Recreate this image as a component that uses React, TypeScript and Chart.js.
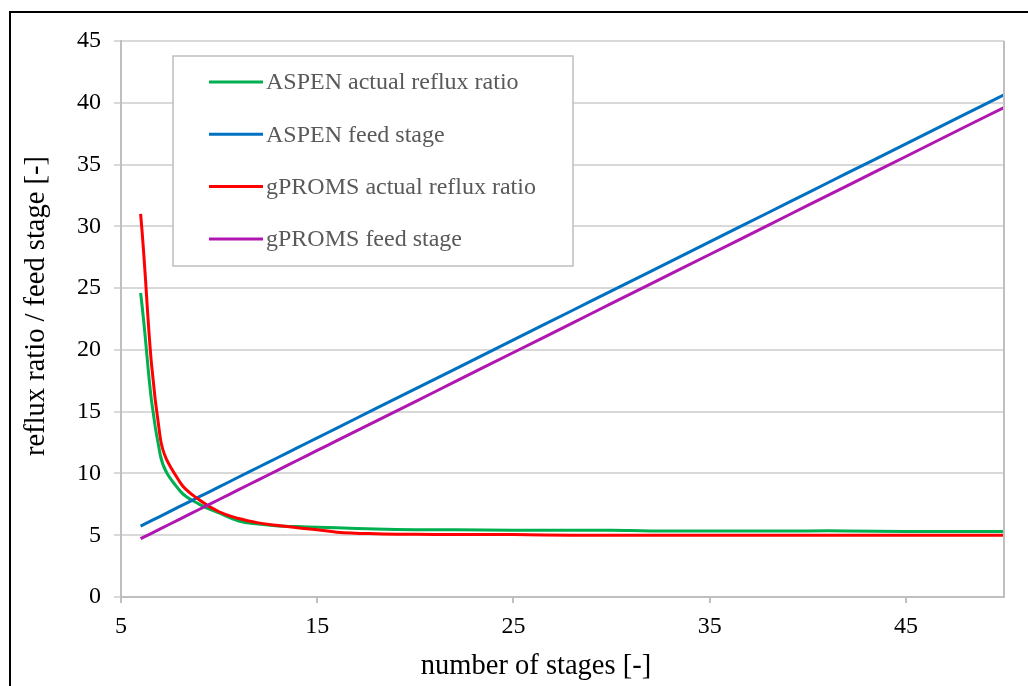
import React, { useEffect, useRef } from "react";
import { Chart, registerables } from "chart.js";

Chart.register(...registerables);

// Number of stages at which each series was evaluated
const stages = [6, 7, 8, 9, 10, 11, 12, 13, 14, 15, 16, 18, 20, 22, 25, 28, 30, 32, 35, 38, 40, 42, 45, 48, 50];

const aspenReflux = [24.6, 11.5, 8.6, 7.5, 6.8, 6.15, 5.9, 5.75, 5.7, 5.65, 5.6, 5.5, 5.45, 5.45, 5.4, 5.4, 5.4, 5.35, 5.35, 5.35, 5.35, 5.35, 5.3, 5.3, 5.3];
const aspenFeed = [5.74, 6.53, 7.33, 8.12, 8.91, 9.71, 10.5, 11.29, 12.09, 12.88, 13.67, 15.26, 16.84, 18.43, 20.81, 23.19, 24.78, 26.36, 28.74, 31.12, 32.71, 34.3, 36.67, 39.06, 40.64];
const gpromsReflux = [31.0, 12.9, 9.3, 7.85, 6.9, 6.35, 6.0, 5.78, 5.6, 5.45, 5.25, 5.12, 5.07, 5.05, 5.05, 5.0, 5.0, 5.0, 5.0, 5.0, 5.0, 5.0, 5.0, 5.0, 5.0];
const gpromsFeed = [4.72, 5.51, 6.31, 7.1, 7.89, 8.69, 9.48, 10.27, 11.07, 11.86, 12.65, 14.24, 15.82, 17.41, 19.79, 22.17, 23.76, 25.34, 27.72, 30.1, 31.69, 33.28, 35.65, 38.04, 39.62];

const seriesLabels = [
  "ASPEN actual reflux ratio",
  "ASPEN feed stage",
  "gPROMS actual reflux ratio",
  "gPROMS feed stage",
];

const xTickValues = [5, 15, 25, 35, 45];
const yTickValues = [0, 5, 10, 15, 20, 25, 30, 35, 40, 45];

const xTitle = "number of stages [-]";
const yTitle = "reflux ratio / feed stage [-]";

const FONT = "'Liberation Serif', 'Times New Roman', serif";
const COLORS = ["#00b050", "#0070c0", "#ff0000", "#b016b0"];

const toPoints = (ys: number[]) => stages.map((x, i) => ({ x, y: ys[i] }));

const decorations = {
  id: "decorations",
  afterDraw(chart: any) {
    const { ctx, chartArea } = chart;
    ctx.save();

    // outer frame (top and left edges)
    ctx.strokeStyle = "#000";
    ctx.lineWidth = 2;
    ctx.beginPath();
    ctx.moveTo(10, 686);
    ctx.lineTo(10, 12);
    ctx.lineTo(1028, 12);
    ctx.stroke();

    // right edge of the plot area
    ctx.strokeStyle = "#bfbfbf";
    ctx.lineWidth = 2;
    ctx.beginPath();
    ctx.moveTo(chartArea.right, chartArea.top);
    ctx.lineTo(chartArea.right, chartArea.bottom);
    ctx.stroke();

    // axis titles
    ctx.fillStyle = "#000";
    ctx.font = `28.5px ${FONT}`;
    ctx.textAlign = "center";
    ctx.textBaseline = "middle";
    ctx.fillText(xTitle, 536, 667);
    ctx.save();
    ctx.translate(37, 306);
    ctx.rotate(-Math.PI / 2);
    ctx.fillText(yTitle, 0, 0);
    ctx.restore();

    // legend box
    const bx = 173, by = 56, bw = 400, bh = 210;
    ctx.fillStyle = "#fff";
    ctx.fillRect(bx, by, bw, bh);
    ctx.strokeStyle = "#bfbfbf";
    ctx.lineWidth = 1.5;
    ctx.strokeRect(bx, by, bw, bh);

    ctx.font = `24px ${FONT}`;
    ctx.textAlign = "left";
    ctx.textBaseline = "middle";
    chart.data.datasets.forEach((ds: any, i: number) => {
      const y = 82 + i * 52.3;
      ctx.strokeStyle = ds.borderColor;
      ctx.lineWidth = 3;
      ctx.beginPath();
      ctx.moveTo(209, y);
      ctx.lineTo(263, y);
      ctx.stroke();
      ctx.fillStyle = "#595959";
      ctx.fillText(ds.label, 266, y + 1);
    });

    ctx.restore();
  },
};

export default function App() {
  const canvasRef = useRef<HTMLCanvasElement | null>(null);

  useEffect(() => {
    if (!canvasRef.current) return;
    const series = [aspenReflux, aspenFeed, gpromsReflux, gpromsFeed];
    const chart = new Chart(canvasRef.current, {
      type: "line",
      data: {
        datasets: series.map((ys, i) => ({
          label: seriesLabels[i],
          data: toPoints(ys),
          borderColor: COLORS[i],
          backgroundColor: COLORS[i],
          borderWidth: 3,
          pointRadius: 0,
          fill: false,
          tension: 0.4,
          order: 4 - i,
        })),
      },
      options: {
        responsive: false,
        animation: false,
        layout: { padding: { left: 0, top: 41, right: 24, bottom: 0 } },
        plugins: {
          legend: { display: false },
          tooltip: { enabled: false },
        },
        scales: {
          x: {
            type: "linear",
            min: 5,
            max: 50,
            afterBuildTicks: (scale: any) => {
              scale.ticks = xTickValues.map((v) => ({ value: v }));
            },
            afterFit: (scale: any) => {
              scale.height = 89;
            },
            grid: {
              drawOnChartArea: false,
              drawTicks: true,
              tickLength: 6,
              color: "#bfbfbf",
              lineWidth: 2,
            },
            border: { color: "#bfbfbf", width: 2 },
            ticks: {
              color: "#000",
              font: { family: FONT, size: 24 },
              padding: 9,
              maxRotation: 0,
            },
          },
          y: {
            type: "linear",
            min: 0,
            max: 45,
            afterBuildTicks: (scale: any) => {
              scale.ticks = yTickValues.map((v) => ({ value: v }));
            },
            afterFit: (scale: any) => {
              scale.width = 121;
            },
            grid: {
              color: "#d9d9d9",
              lineWidth: 2,
              tickLength: 7,
              drawTicks: true,
            },
            border: { color: "#bfbfbf", width: 2 },
            ticks: {
              color: "#000",
              font: { family: FONT, size: 24 },
              padding: 13,
            },
          },
        },
      },
      plugins: [decorations],
    });
    return () => chart.destroy();
  }, []);

  return (
    <div style={{ position: "fixed", left: 0, top: 0, width: 1028, height: 686, background: "#fff" }}>
      <canvas ref={canvasRef} width={1028} height={686} style={{ display: "block" }} />
    </div>
  );
}
